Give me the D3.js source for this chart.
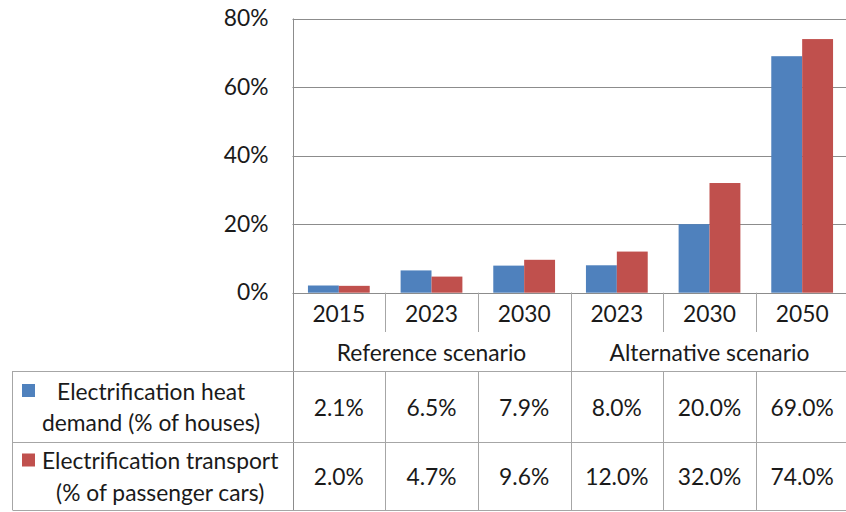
<!DOCTYPE html>
<html>
<head>
<meta charset="utf-8">
<script src="https://cdn.jsdelivr.net/npm/d3@7/dist/d3.min.js"></script>
<style>
  html, body { margin: 0; padding: 0; background: #fff; }
  svg text { font-family: Lato, "Open Sans", sans-serif; fill: #1a1a1a; }
</style>
</head>
<body>
<svg id="chart" width="846" height="512"></svg>
<script>
// ---- data ----
const years = ["2015", "2023", "2030", "2023", "2030", "2050"];
const scenarios = ["Reference scenario", "Alternative scenario"];
const scenarioOfYear = [0, 0, 0, 1, 1, 1];
const seriesNames = ["Electrification heat demand (% of houses)", "Electrification transport (% of passenger cars)"];
const seriesLabelLines = [["Electrification heat", "demand (% of houses)"], ["Electrification transport", "(% of passenger cars)"]];
const heatDemand = [0.021, 0.065, 0.079, 0.080, 0.200, 0.690];
const transport = [0.020, 0.047, 0.096, 0.120, 0.320, 0.740];
const yTicks = [0, 0.2, 0.4, 0.6, 0.8];
const colors = ["#4F81BD", "#C0504D"];

const series = [heatDemand, transport];

// ---- layout ----
const svg = d3.select("#chart");
const plotLeft = 292.5, plotRight = 848.5, plotTop = 18.5, plotBottom = 292.7;
const tableLeft = 12.5, tableTop = 371, rowMid = 442, tableBottom = 510;
const yearCenter = 313, scenarioCenter = 352, tickBottom = 332;
const fontSize = 22.8;
const gridColor = "#8c8c8c", tableColor = "#a6a6a6";

const x0 = d3.scaleBand().domain(d3.range(years.length)).range([plotLeft, plotRight]).paddingInner(0).paddingOuter(0);
const x1 = d3.scaleBand().domain(d3.range(series.length)).range([0, x0.bandwidth()]).paddingInner(0).paddingOuter(0.5);
const y = d3.scaleLinear().domain([0, 0.8]).range([plotBottom, plotTop]);

// gridlines
svg.append("g").selectAll("line").data(yTicks.filter(t => t > 0)).join("line")
  .attr("x1", plotLeft).attr("x2", plotRight)
  .attr("y1", d => Math.round(y(d)) + 0.5).attr("y2", d => Math.round(y(d)) + 0.5)
  .attr("stroke", gridColor).attr("stroke-width", 1);

// y axis labels via d3 axis
const yAxis = d3.axisLeft(y).tickValues(yTicks).tickFormat(d3.format(".0%")).tickSize(0).tickPadding(24);
const yg = svg.append("g").attr("transform", `translate(${plotLeft},0)`).call(yAxis);
yg.select(".domain").remove();
yg.selectAll("text").attr("font-size", fontSize).attr("font-family", "Lato, 'Open Sans', sans-serif").attr("fill", "#1a1a1a");

// bars
const groups = svg.append("g").selectAll("g").data(years.map((yr, i) => i)).join("g")
  .attr("transform", i => `translate(${x0(i)},0)`);
groups.selectAll("rect").data(i => series.map((s, k) => ({k, v: s[i]}))).join("rect")
  .attr("x", d => x1(d.k)).attr("width", x1.bandwidth())
  .attr("y", d => y(d.v)).attr("height", d => y(0) - y(d.v))
  .attr("fill", d => colors[d.k]);

// table lines
const lines = svg.append("g").attr("stroke-width", 1);
// x axis (0 line)
lines.append("line").attr("x1", plotLeft).attr("x2", plotRight).attr("y1", Math.round(plotBottom) + 0.5).attr("y2", Math.round(plotBottom) + 0.5).attr("stroke", gridColor);
// plot left line from top to table bottom
lines.append("line").attr("x1", Math.round(plotLeft) + 0.5).attr("x2", Math.round(plotLeft) + 0.5).attr("y1", plotTop).attr("y2", tableBottom).attr("stroke", gridColor);
// year tick lines
const bounds = d3.range(1, years.length).map(i => x0(i));
lines.selectAll(".tick").data(bounds).join("line")
  .attr("x1", d => Math.round(d) + 0.5).attr("x2", d => Math.round(d) + 0.5)
  .attr("y1", plotBottom).attr("y2", d => tickBottom)
  .attr("stroke", tableColor);
// scenario separators
const scenBounds = d3.range(1, years.length).filter(i => scenarioOfYear[i] !== scenarioOfYear[i - 1]).map(i => x0(i));
lines.selectAll(".sep").data(scenBounds).join("line")
  .attr("x1", d => Math.round(d) + 0.5).attr("x2", d => Math.round(d) + 0.5)
  .attr("y1", plotBottom).attr("y2", tableTop)
  .attr("stroke", tableColor);
// table horizontal
[tableTop, rowMid, tableBottom].forEach(yy => {
  lines.append("line").attr("x1", tableLeft).attr("x2", plotRight).attr("y1", yy + 0.5).attr("y2", yy + 0.5).attr("stroke", tableColor);
});
// table verticals
lines.append("line").attr("x1", tableLeft).attr("x2", tableLeft).attr("y1", tableTop).attr("y2", tableBottom).attr("stroke", tableColor);
lines.selectAll(".tv").data(bounds).join("line")
  .attr("x1", d => Math.round(d) + 0.5).attr("x2", d => Math.round(d) + 0.5)
  .attr("y1", tableTop).attr("y2", tableBottom).attr("stroke", tableColor);

// year labels
svg.append("g").selectAll("text").data(years).join("text")
  .attr("x", (d, i) => x0(i) + x0.bandwidth() / 2).attr("y", yearCenter)
  .attr("text-anchor", "middle").attr("dominant-baseline", "central")
  .attr("font-size", fontSize).text(d => d);

// scenario labels
svg.append("g").selectAll("text").data(scenarios).join("text")
  .attr("x", (d, s) => {
    const idx = d3.range(years.length).filter(i => scenarioOfYear[i] === s);
    return (x0(idx[0]) + x0(idx[idx.length - 1]) + x0.bandwidth()) / 2;
  })
  .attr("y", scenarioCenter)
  .attr("text-anchor", "middle").attr("dominant-baseline", "central")
  .attr("font-size", fontSize).text(d => d);

// table rows
const rowTops = [tableTop, rowMid];
const rowBottoms = [rowMid, tableBottom];
series.forEach((s, k) => {
  const cy = (rowTops[k] + rowBottoms[k]) / 2;
  const g = svg.append("g");
  g.selectAll("text").data(s).join("text")
    .attr("x", (d, i) => x0(i) + x0.bandwidth() / 2).attr("y", cy)
    .attr("text-anchor", "middle").attr("dominant-baseline", "central")
    .attr("font-size", fontSize).text(d => d3.format(".1%")(d));
  // legend key
  g.append("rect").attr("x", 22).attr("y", cy - 22.5).attr("width", 13).attr("height", 13).attr("fill", colors[k]);
  // label lines
  const lbl = g.append("g");
  const ts = lbl.selectAll("text").data(seriesLabelLines[k]).join("text")
    .attr("y", (d, j) => cy - 16 + j * 31.5)
    .attr("text-anchor", "middle").attr("dominant-baseline", "central")
    .attr("font-size", fontSize).text(d => d);
  let maxW = 0;
  ts.each(function () { maxW = Math.max(maxW, this.getComputedTextLength()); });
  ts.attr("x", 42 + maxW / 2);
});
</script>
</body>
</html>
